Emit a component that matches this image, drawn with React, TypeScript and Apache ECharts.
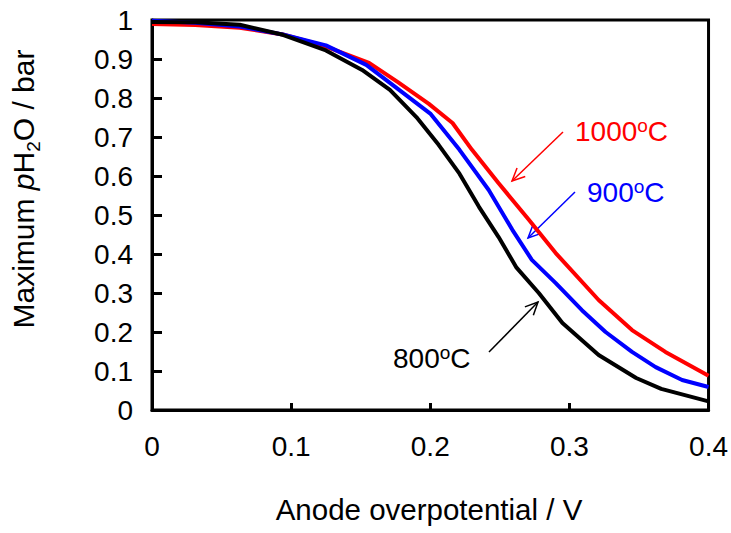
import React, { useEffect, useRef } from "react";
import * as echarts from "echarts";

// ---- data ----
const x1000 = [0, 0.031, 0.063, 0.094, 0.125, 0.156, 0.177, 0.199, 0.216, 0.23, 0.249, 0.271, 0.29, 0.321, 0.345, 0.369, 0.4];
const y1000 = [0.99, 0.987, 0.98, 0.963, 0.932, 0.89, 0.84, 0.785, 0.736, 0.667, 0.582, 0.487, 0.403, 0.282, 0.205, 0.149, 0.088];

const x900 = [0, 0.031, 0.063, 0.094, 0.125, 0.154, 0.175, 0.2, 0.221, 0.242, 0.259, 0.273, 0.29, 0.309, 0.326, 0.345, 0.362, 0.381, 0.4];
const y900 = [0.998, 0.993, 0.983, 0.963, 0.935, 0.885, 0.828, 0.76, 0.667, 0.564, 0.462, 0.385, 0.326, 0.256, 0.2, 0.149, 0.11, 0.077, 0.059];

const x800 = [0, 0.031, 0.063, 0.094, 0.125, 0.151, 0.171, 0.19, 0.206, 0.221, 0.235, 0.249, 0.262, 0.278, 0.295, 0.321, 0.348, 0.366, 0.4];
const y800 = [0.995, 0.994, 0.988, 0.962, 0.922, 0.872, 0.821, 0.751, 0.68, 0.606, 0.521, 0.444, 0.365, 0.3, 0.223, 0.141, 0.082, 0.054, 0.022];

const seriesNames = ["1000oC", "900oC", "800oC"];
const seriesColors = ["#ff0000", "#0000ff", "#000000"];

const xTitle = "Anode overpotential / V";

const FONT = "Liberation Sans";

function zip(xs: number[], ys: number[]) {
  return xs.map((x, i) => [x, ys[i]]);
}

let measureCtx: CanvasRenderingContext2D | null = null;
function textWidth(t: string, size: number, italic = false) {
  if (!measureCtx) measureCtx = document.createElement("canvas").getContext("2d");
  const c = measureCtx!;
  c.font = `${italic ? "italic " : ""}${size}px "${FONT}"`;
  return c.measureText(t).width;
}

type Seg = { text: string; size: number; dy?: number; italic?: boolean };

function segWidth(segs: Seg[]) {
  return segs.reduce((s, g) => s + textWidth(g.text, g.size, g.italic), 0);
}

function layoutSegs(segs: Seg[], x0: number, y0: number, color: string) {
  let x = x0;
  const out: any[] = [];
  for (const s of segs) {
    out.push({
      type: "text",
      x,
      y: y0 + (s.dy || 0),
      silent: true,
      style: {
        text: s.text,
        fontSize: s.size,
        fontFamily: FONT,
        fontStyle: s.italic ? "italic" : "normal",
        fill: color,
        align: "left",
        verticalAlign: "middle",
      },
    });
    x += textWidth(s.text, s.size, s.italic);
  }
  return out;
}

function arrow(x1: number, y1: number, x2: number, y2: number, color: string) {
  const ang = Math.atan2(y2 - y1, x2 - x1);
  const L = 14;
  const a = (25 * Math.PI) / 180;
  const p1 = [x2 - L * Math.cos(ang - a), y2 - L * Math.sin(ang - a)];
  const p2 = [x2 - L * Math.cos(ang + a), y2 - L * Math.sin(ang + a)];
  return [
    { type: "line", silent: true, shape: { x1, y1, x2, y2 }, style: { stroke: color, lineWidth: 1.5 } },
    { type: "polyline", silent: true, shape: { points: [p1, [x2, y2], p2] }, style: { stroke: color, lineWidth: 1.5, fill: null } },
  ];
}

function tempLabel(num: string, x: number, y: number, color: string) {
  return layoutSegs(
    [
      { text: num, size: 28 },
      { text: "o", size: 19, dy: -6 },
      { text: "C", size: 28 },
    ],
    x,
    y,
    color
  );
}

export default function App() {
  const ref = useRef<HTMLDivElement>(null);
  useEffect(() => {
    if (!ref.current) return;
    const chart = echarts.init(ref.current, undefined, { renderer: "svg" });

    const ySegs: Seg[] = [
      { text: "Maximum ", size: 30 },
      { text: "p", size: 30, italic: true },
      { text: "H", size: 30 },
      { text: "2", size: 19, dy: 10 },
      { text: "O / bar", size: 30 },
    ];
    const yW = segWidth(ySegs);

    const graphic: any[] = [
      {
        type: "group",
        x: 23,
        y: 189,
        rotation: Math.PI / 2,
        children: layoutSegs(ySegs, -yW / 2, 0, "#000"),
      },
      {
        type: "text",
        x: 429,
        y: 509,
        silent: true,
        style: { text: xTitle, fontSize: 29.5, fontFamily: FONT, fill: "#000", align: "center", verticalAlign: "middle" },
      },
      ...tempLabel("1000", 575, 131, seriesColors[0]),
      ...tempLabel("900", 587, 192, seriesColors[1]),
      ...tempLabel("800", 393, 358, seriesColors[2]),
      ...arrow(563, 132, 512, 181, seriesColors[0]),
      ...arrow(575, 192, 528, 238, seriesColors[1]),
      ...arrow(489, 352, 538, 302, seriesColors[2]),
    ];

    const option: any = {
      animation: false,
      backgroundColor: "#fff",
      grid: { left: 152, right: 20, top: 20, bottom: 123, show: true, borderColor: "#000", borderWidth: 3 },
      xAxis: {
        type: "value",
        min: 0,
        max: 0.4,
        interval: 0.1,
        splitLine: { show: false },
        axisLine: { show: true, onZero: false, lineStyle: { color: "#000", width: 3 } },
        axisTick: { show: true, inside: true, length: 7, lineStyle: { color: "#000", width: 3 } },
        axisLabel: {
          margin: 22,
          fontSize: 28,
          fontFamily: FONT,
          color: "#000",
          formatter: (v: number) => String(Math.round(v * 10) / 10),
        },
      },
      yAxis: {
        type: "value",
        min: 0,
        max: 1,
        interval: 0.1,
        splitLine: { show: false },
        axisLine: { show: true, onZero: false, lineStyle: { color: "#000", width: 3 } },
        axisTick: { show: true, inside: true, length: 10, lineStyle: { color: "#000", width: 3 } },
        axisLabel: {
          margin: 19,
          fontSize: 28,
          fontFamily: FONT,
          color: "#000",
          formatter: (v: number) => String(Math.round(v * 10) / 10),
        },
      },
      series: [
        { name: seriesNames[0], type: "line", data: zip(x1000, y1000), showSymbol: false, lineStyle: { color: seriesColors[0], width: 4 }, itemStyle: { color: seriesColors[0] }, z: 2 },
        { name: seriesNames[1], type: "line", data: zip(x900, y900), showSymbol: false, lineStyle: { color: seriesColors[1], width: 4 }, itemStyle: { color: seriesColors[1] }, z: 3 },
        { name: seriesNames[2], type: "line", data: zip(x800, y800), showSymbol: false, lineStyle: { color: seriesColors[2], width: 4 }, itemStyle: { color: seriesColors[2] }, z: 4 },
      ],
      graphic,
    };
    chart.setOption(option);
    return () => chart.dispose();
  }, []);
  return <div ref={ref} style={{ width: 731, height: 533, position: "absolute", left: 0, top: 0 }} />;
}
